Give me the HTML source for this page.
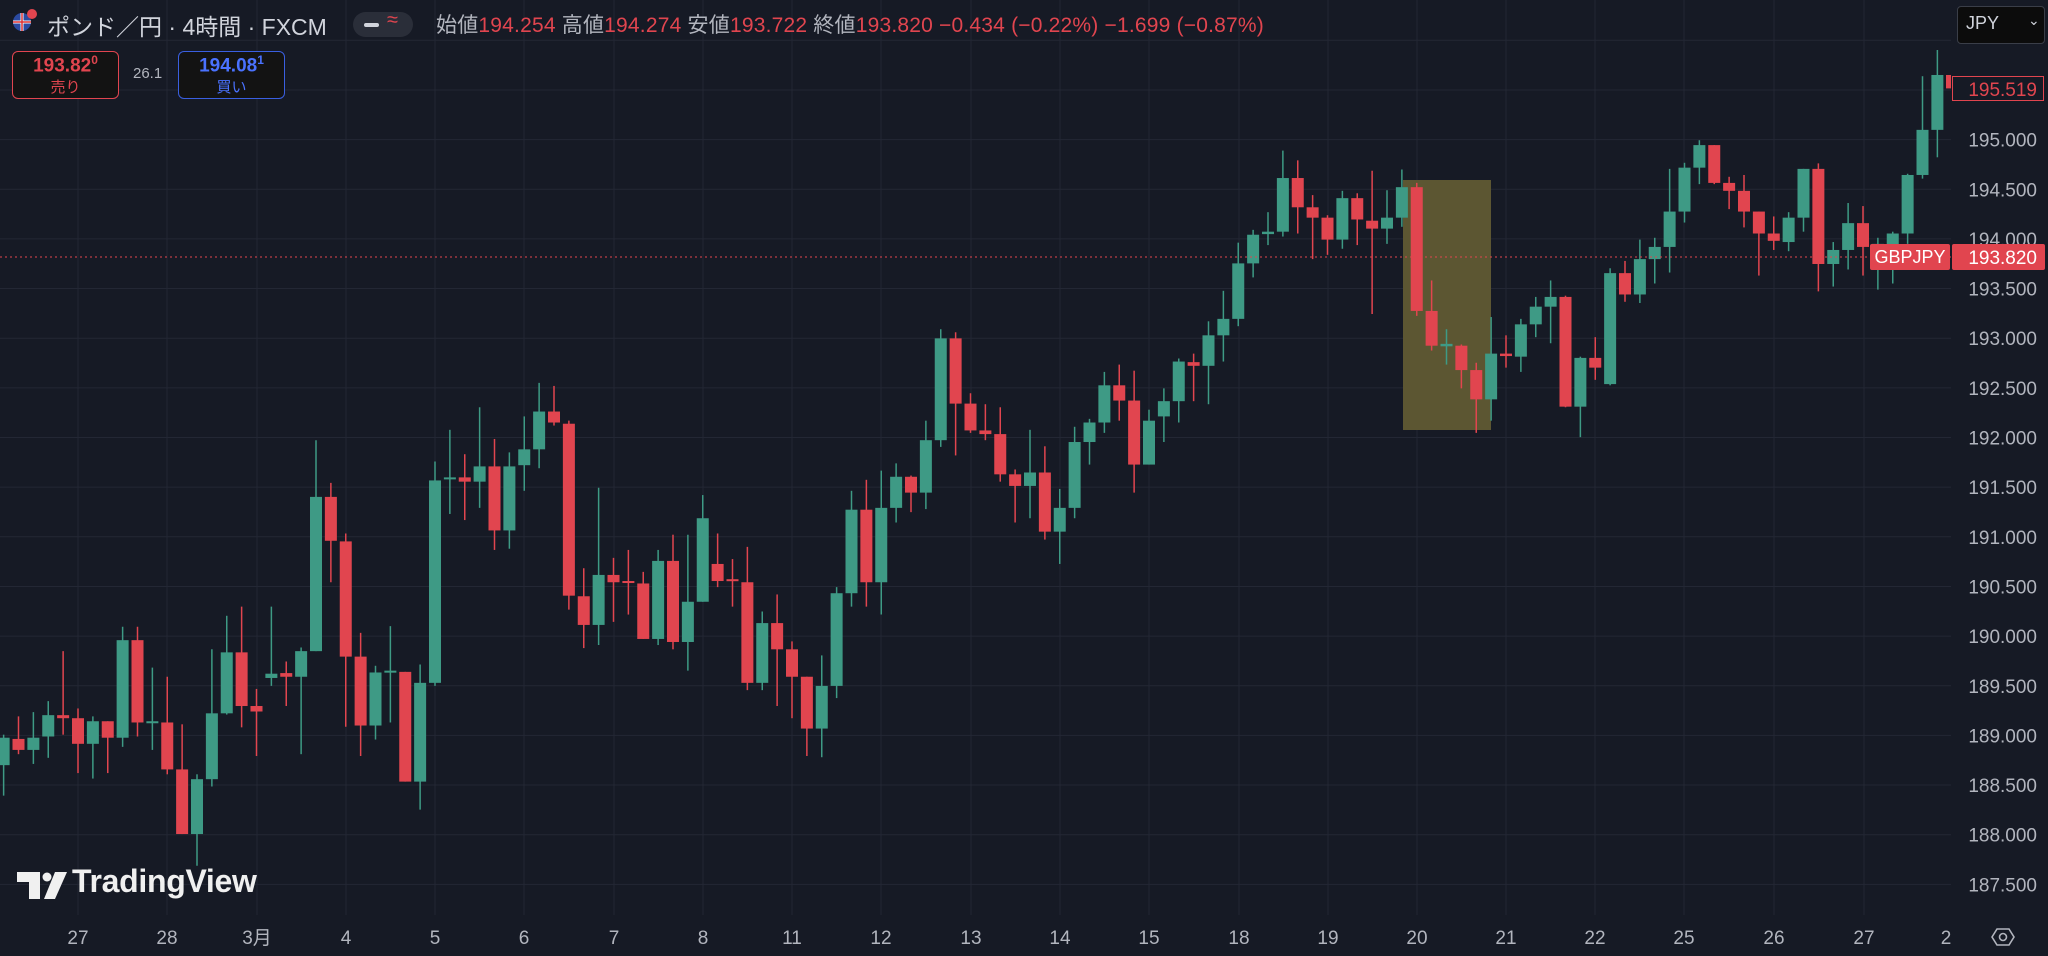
<!DOCTYPE html>
<html><head><meta charset="utf-8">
<style>
html,body{margin:0;padding:0;background:#161a25;width:2048px;height:956px;overflow:hidden;font-family:"Liberation Sans","Noto Sans CJK JP",sans-serif;}
svg{position:absolute;left:0;top:0}
.t{position:absolute;white-space:nowrap}
</style></head><body>
<svg id="s" width="2048" height="956" xmlns="http://www.w3.org/2000/svg"></svg>
<div class="t" style="left:47px;top:8px;font-size:23px;color:#d1d4dc;">ポンド／円 · 4時間 · FXCM</div>
<div style="position:absolute;left:353px;top:12px;width:60px;height:25px;border-radius:13px;background:#2a2e39;"></div>
<div style="position:absolute;left:364px;top:23px;width:15px;height:4px;border-radius:2px;background:#d1d4dc;"></div>
<div class="t" style="left:387px;top:9px;font-size:20px;color:#e1454f;">≈</div>
<div class="t" style="left:436px;top:9px;font-size:21px;color:#e1454f;letter-spacing:0.2px"><span style="color:#b2b5be">始値</span>194.254 <span style="color:#b2b5be">高値</span>194.274 <span style="color:#b2b5be">安値</span>193.722 <span style="color:#b2b5be">終値</span>193.820 −0.434 (−0.22%) −1.699 (−0.87%)</div>
<div style="position:absolute;left:12px;top:51px;width:105px;height:46px;border:1.5px solid #e1454f;border-radius:6px;background:#131313;"></div>
<div class="t" style="left:12px;top:53px;width:107px;text-align:center;font-size:19px;font-weight:bold;color:#e1454f;">193.82<sup style="font-size:12px">0</sup></div>
<div class="t" style="left:12px;top:76px;width:107px;text-align:center;font-size:15px;color:#e1454f;">売り</div>
<div class="t" style="left:133px;top:65px;font-size:15px;color:#b2b5be;">26.1</div>
<div style="position:absolute;left:178px;top:51px;width:105px;height:46px;border:1.5px solid #3a5fe0;border-radius:6px;background:#131313;"></div>
<div class="t" style="left:178px;top:53px;width:107px;text-align:center;font-size:19px;font-weight:bold;color:#4a72ff;">194.08<sup style="font-size:12px">1</sup></div>
<div class="t" style="left:178px;top:76px;width:107px;text-align:center;font-size:15px;color:#4a72ff;">買い</div>
<div style="position:absolute;left:1957px;top:6px;width:86px;height:36px;border:1px solid #3a3e48;border-radius:4px;background:#0c0c0c;"></div>
<div class="t" style="left:1966px;top:13px;font-size:18px;color:#d1d4dc;">JPY</div>
<div class="t" style="left:2028px;top:12px;font-size:14px;color:#d1d4dc;">⌄</div>
<div class="t" style="left:72px;top:863px;font-size:32px;font-weight:bold;color:#f0f0f0;letter-spacing:-0.3px">TradingView</div>
<script>
var s=document.getElementById('s'),h='';
function Y(z){return z/1.6402;}
function py(p){return 139.6+(195-p)*99.3;}
for(var p=187.5;p<=196.01;p+=0.5){var y=py(p);h+='<line x1="0" x2="1951" y1="'+y+'" y2="'+y+'" stroke="#232734" stroke-width="1"/>';}
var days=[[78,'27'],[167,'28'],[257,'3月'],[346,'4'],[435,'5'],[524,'6'],[614,'7'],[703,'8'],[792,'11'],[881,'12'],[971,'13'],[1060,'14'],[1149,'15'],[1239,'18'],[1328,'19'],[1417,'20'],[1506,'21'],[1595,'22'],[1684,'25'],[1774,'26'],[1864,'27'],[1946,'2']];
days.forEach(function(d){if(d[1]!='2')h+='<line x1="'+d[0]+'" x2="'+d[0]+'" y1="0" y2="915" stroke="#232734"/>';
h+='<text x="'+d[0]+'" y="944" fill="#b2b5be" font-size="19" text-anchor="middle" font-family="Liberation Sans, Noto Sans CJK JP, sans-serif">'+d[1]+'</text>';});
h+='<rect x="1403" y="180" width="88" height="250" fill="#5c5632"/>';
var G='#3e9a85',R='#e1454f';
var d=[
['g',1210,1255,1205,1305],['r',1212,1230,1175,1237],['g',1210,1230,1168,1253],['g',1173,1208,1150,1243],['r',1173,1178,1068,1205],
['r',1178,1220,1162,1268],['g',1183,1220,1175,1277],['r',1183,1210,1183,1268],['g',1050,1210,1028,1225],['r',1050,1185,1028,1208],
['g',1183,1186,1095,1230],['r',1185,1262,1110,1270],['r',1262,1368,1188,1368],['g',1278,1368,1270,1420],['g',1170,1278,1065,1290],
['g',1070,1170,1010,1172],['r',1070,1158,995,1193],['r',1158,1167,1130,1240],['g',1105,1112,995,1125],['r',1104,1110,1085,1158],
['g',1068,1110,1062,1237],['g',815,1068,722,1068],['r',815,887,792,955],['r',888,1077,875,1192],['r',1077,1190,1038,1240],
['g',1103,1190,1092,1213],['g',1100,1103,1027,1185],['r',1102,1282,1102,1282],['g',1120,1282,1090,1328],['g',788,1120,757,1125],
['g',783,786,705,843],['r',783,790,745,853],['g',765,790,668,833],['r',765,870,720,902],['g',765,870,742,900],
['g',737,763,683,805],['g',675,737,628,768],['r',675,693,633,698],['r',695,977,690,1000],['r',978,1025,932,1063],
['g',943,1025,800,1058],['r',943,955,915,1020],['r',953,956,902,1008],['r',957,1048,938,1048],['g',920,1048,902,1058],
['r',920,1053,877,1065],['g',987,1053,877,1100],['g',850,987,812,987],['r',925,953,875,963],['r',950,953,917,995],
['r',955,1120,897,1132],['g',1022,1120,1003,1132],['r',1022,1065,975,1158],['r',1065,1110,1052,1178],['r',1110,1195,1110,1240],
['g',1125,1195,1075,1242],['g',973,1125,963,1145],['g',836,973,805,995],['r',836,955,787,995],['g',833,955,772,1008],
['g',782,833,760,857],['r',782,808,780,840],['g',722,808,690,835],['g',555,722,540,733],['r',555,662,545,747],
['r',662,706,645,710],['r',706,712,663,722],['r',712,778,668,790],['r',778,797,770,857],['g',775,797,705,850],
['r',775,872,732,885],['g',833,872,802,925],['g',725,833,700,850],['g',693,725,687,762],['g',632,693,610,710],
['r',632,657,598,690],['r',657,762,608,808],['g',690,762,672,762],['g',658,683,637,725],['g',593,658,588,693],
['r',594,600,580,658],['g',550,600,527,663],['g',523,550,477,593],['g',432,523,398,535],['g',385,432,377,455],
['g',380,384,348,402],['g',292,380,247,388],['r',292,340,263,383],['r',340,357,320,425],['r',357,393,353,418],
['g',325,393,313,408],['r',325,360,317,402],['r',362,375,280,515],['g',357,375,312,400],['g',307,357,278,372],
['r',307,510,300,518],['r',510,567,460,575],['g',564,568,540,598],['r',567,607,565,637],['r',607,655,595,710],
['g',580,655,520,690],['r',580,584,550,603],['g',532,585,523,610],['g',503,532,487,553],['g',487,503,460,563],
['r',487,667,485,668],['g',587,667,585,717],['r',587,603,553,623],['g',448,630,440,632],['r',448,483,428,495],
['g',425,483,393,497],['g',405,425,390,465],['g',347,405,277,447],['g',275,347,267,365],['g',238,275,230,302],
['r',238,300,238,302],['r',300,313,290,343],['r',313,347,287,373],['r',347,383,347,452],['r',383,395,355,410],
['g',357,397,348,412],['g',277,357,277,380],['r',277,433,268,478],['g',410,433,397,470],['g',366,410,333,442],
['r',366,405,338,452],['g',400,408,390,475],['g',383,405,380,465],['g',287,383,285,400],['g',213,287,125,293],
['g',123,213,82,258]];
for(var i=0;i<d.length;i++){var j=i-5,x=78+j*14.875,c=d[i][0]=='g'?G:R;
var bt=Y(d[i][1]),bb=Y(d[i][2]);if(bb-bt<2){bb=bt+2;}
h+='<line x1="'+x+'" x2="'+x+'" y1="'+Y(d[i][3])+'" y2="'+Y(d[i][4])+'" stroke="'+c+'" stroke-width="1.5"/>';
h+='<rect x="'+(x-6)+'" y="'+bt+'" width="12" height="'+(bb-bt)+'" fill="'+c+'"/>';}
h+='<rect x="1946" y="'+Y(123)+'" width="5" height="'+(Y(145)-Y(123))+'" fill="'+R+'"/>';
h+='<line x1="0" x2="1951" y1="257" y2="257" stroke="#e1454f" stroke-width="1" stroke-dasharray="2,3"/>';
for(var p=187.5;p<=195.01;p+=0.5){h+='<text x="2037" y="'+(py(p)+7)+'" fill="#b2b5be" font-size="19" text-anchor="end" font-family="Liberation Sans, sans-serif">'+p.toFixed(3)+'</text>';}
h+='<rect x="1870" y="244" width="80" height="26" rx="2" fill="#e1454f"/><text x="1910" y="263" fill="#fff" font-size="18" text-anchor="middle" font-family="Liberation Sans, sans-serif">GBPJPY</text>';
h+='<rect x="1952" y="244" width="93" height="26" rx="2" fill="#e1454f"/><text x="2037" y="264" fill="#fff" font-size="19" text-anchor="end" font-family="Liberation Sans, sans-serif">193.820</text>';
h+='<rect x="1952.5" y="76.5" width="91" height="24" fill="#161a25" stroke="#e1454f"/><text x="2037" y="96" fill="#e1454f" font-size="19" text-anchor="end" font-family="Liberation Sans, sans-serif">195.519</text>';
h+='<path d="M1992 937 L1997 929 L2009 929 L2014 937 L2009 945 L1997 945 Z" fill="none" stroke="#b2b5be" stroke-width="1.6"/><circle cx="2003" cy="937" r="3.5" fill="none" stroke="#b2b5be" stroke-width="1.6"/>';
h+='<circle cx="22" cy="22" r="9" fill="#2b4aa0"/><path d="M13 22 H31 M22 13 V31" stroke="#fff" stroke-width="3"/><path d="M13 22 H31 M22 13 V31" stroke="#d33" stroke-width="1.5"/><circle cx="32" cy="14" r="5" fill="#e1454f"/>';
h+='<path d="M17 872 H40 V899 H29 V882 H17 Z" fill="#f0f0f0"/><circle cx="47" cy="877" r="4.5" fill="#f0f0f0"/><path d="M55 872 H67 L55 899 H44 Z" fill="#f0f0f0"/>';
s.innerHTML=h;
</script>
</body></html>
